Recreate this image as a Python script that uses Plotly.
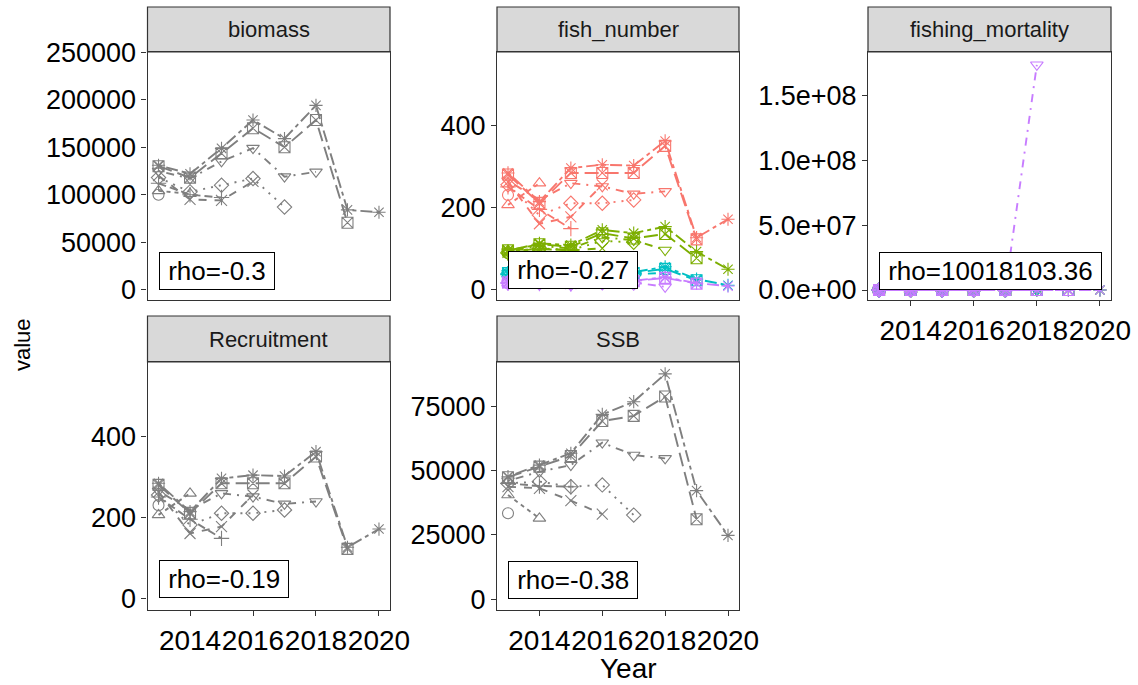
import plotly.graph_objects as go

W, H = 1138, 685
FONT = "Liberation Sans, Arial, sans-serif"

years = [2013, 2014, 2015, 2016, 2017, 2018, 2019, 2020]
peel_symbols = ["circle-open", "triangle-up-open", "cross-thin-open", "x-thin-open",
                "diamond-open", "triangle-down-open", "square-x-open", "asterisk-open"]
peel_dash = ["solid", "4px,4px", "8px,4px", "8px,8px", "2px,6px",
             "2px,6px,8px,6px", "14px,6px", "4px,4px,12px,4px"]
age_colors = ["#F8766D", "#7CAE00", "#00BFC4", "#C77CFF"]
grey = "#7F7F7F"

# ---- data: each list = one retrospective peel (values from 2013 onward) ----
biomass = [
    [100000],
    [104000, 101000],
    [112000, 100000, 97000],
    [120000, 95000, 94000, 114000],
    [118000, 103000, 110000, 117000, 87000],
    [125000, 117000, 135000, 149000, 119000, 124000],
    [130000, 118000, 143500, 170000, 150000, 178600, 70500],
    [131000, 122000, 148800, 178600, 159000, 194000, 84000, 81500],
]
recruitment = [
    [230],
    [206, 259],
    [250, 195, 148],
    [262, 160, 177, 255],
    [255, 181, 210, 210, 218],
    [265, 218, 259, 251, 233, 239],
    [280, 210, 284, 284, 284, 350, 122],
    [284, 214, 296, 304, 302, 362, 126, 171],
]
fish_age1 = recruitment
fish_age2 = [
    [88],
    [92, 100],
    [88, 98, 96],
    [90, 100, 95, 100],
    [90, 100, 96, 118, 115],
    [92, 106, 100, 127, 120, 96],
    [95, 110, 104, 137, 124, 135, 76],
    [94, 112, 108, 145, 137, 153, 92, 49],
]
fish_age3 = [
    [35],
    [37, 30],
    [36, 32, 30],
    [38, 33, 31, 33],
    [38, 34, 33, 36, 34],
    [39, 35, 34, 38, 37, 40],
    [40, 36, 36, 42, 40, 50, 22],
    [40, 37, 37, 44, 42, 55, 25, 10],
]
fish_age4 = [
    [15],
    [15, 14],
    [15, 14, 13],
    [16, 15, 14, 15],
    [16, 15, 14, 16, 15],
    [16, 16, 15, 18, 17, 6],
    [17, 16, 16, 19, 20, 28, 14],
    [17, 16, 16, 20, 21, 30, 15, 8],
]
fmort_age1 = [[0.21], [0.22, 0.25], [0.2, 0.24, 0.26], [0.21, 0.23, 0.27, 0.3],
              [0.2, 0.22, 0.25, 0.28, 0.3], [0.2, 0.22, 0.24, 0.27, 0.29, 0.31],
              [0.19, 0.21, 0.23, 0.26, 0.28, 0.3, 0.32], [0.19, 0.21, 0.23, 0.25, 0.27, 0.29, 0.31, 0.33]]
fmort_age2 = [[0.41], [0.42, 0.45], [0.4, 0.44, 0.46], [0.41, 0.43, 0.47, 0.5],
              [0.4, 0.42, 0.45, 0.48, 0.5], [0.4, 0.42, 0.44, 0.47, 0.49, 0.51],
              [0.39, 0.41, 0.43, 0.46, 0.48, 0.5, 0.52], [0.39, 0.41, 0.43, 0.45, 0.47, 0.49, 0.51, 0.53]]
fmort_age3 = [[0.61], [0.62, 0.65], [0.6, 0.64, 0.66], [0.61, 0.63, 0.67, 0.7],
              [0.6, 0.62, 0.65, 0.68, 0.7], [0.6, 0.62, 0.64, 0.67, 0.69, 0.71],
              [0.59, 0.61, 0.63, 0.66, 0.68, 0.7, 0.72], [0.59, 0.61, 0.63, 0.65, 0.67, 0.69, 0.71, 0.73]]
fmort_age4 = [[0.81], [0.82, 0.85], [0.8, 0.84, 0.86], [0.81, 0.83, 0.87, 0.9],
              [0.8, 0.82, 0.85, 0.88, 0.9], [0.8, 0.82, 0.84, 0.87, 0.89, 1.74e8],
              [0.79, 0.81, 0.83, 0.86, 0.88, 0.9, 0.92], [0.79, 0.81, 0.83, 0.85, 0.87, 0.89, 0.91, 0.93]]
ssb = [
    [33400],
    [40500, 31400],
    [45000, 44000, 43700],
    [43700, 43100, 38300, 33100],
    [45000, 45700, 43700, 44400, 32700],
    [46000, 49500, 52100, 60800, 56000, 54700],
    [47400, 51500, 55600, 69200, 71200, 78700, 31100],
    [47600, 52100, 56700, 71800, 76700, 87500, 42200, 24800],
]

panel_names = ["biomass", "fish_number", "fishing_mortality", "Recruitment", "SSB"]
rho_labels = ["rho=-0.3", "rho=-0.27", "rho=10018103.36", "rho=-0.19", "rho=-0.38"]

biomass_ticks = [0, 50000, 100000, 150000, 200000, 250000]
biomass_ticktext = ["0", "50000", "100000", "150000", "200000", "250000"]
number_ticks = [0, 200, 400]
fmort_ticks = [0, 5e7, 1e8, 1.5e8]
fmort_ticktext = ["0.0e+00", "5.0e+07", "1.0e+08", "1.5e+08"]
ssb_ticks = [0, 25000, 50000, 75000]
x_ticks = [2014, 2016, 2018, 2020]

# ---- layout geometry (pixels) ----
panel_px = [
    (147.5, 390, 52, 300),
    (497, 739, 52, 300),
    (868, 1111, 52, 300),
    (147.5, 390, 362, 610),
    (497, 739, 362, 610),
]
strip_px = [(7, 52), (7, 52), (7, 52), (316, 362), (316, 362)]
y_ranges = [
    [-10840, 250200],
    [-26, 579],
    [-7.73e6, 1.839e8],
    [-28.9, 583.4],
    [-4154, 92120],
]
x_range = [2012.65, 2020.35]

fig = go.Figure()


def add_series(panel_idx, peels, color):
    ax = "" if panel_idx == 0 else str(panel_idx + 1)
    for k, vals in enumerate(peels):
        fig.add_trace(go.Scatter(
            x=years[:len(vals)], y=vals, mode="lines+markers",
            xaxis="x" + ax, yaxis="y" + ax,
            line=dict(color=color, width=1.9, dash=peel_dash[k]),
            marker=dict(symbol=peel_symbols[k], size=11, color=color,
                        line=dict(color=color, width=1.1)),
            showlegend=False, hoverinfo="skip"))


add_series(0, biomass, grey)
for peels, col in zip([fish_age1, fish_age2, fish_age3, fish_age4], age_colors):
    add_series(1, peels, col)
for peels, col in zip([fmort_age1, fmort_age2, fmort_age3, fmort_age4], age_colors):
    add_series(2, peels, col)
add_series(3, recruitment, grey)
add_series(4, ssb, grey)

axis_common = dict(showline=True, mirror=True, linecolor="#333333", linewidth=1.2,
                   ticks="outside", ticklen=5, tickwidth=1.2, tickcolor="#333333",
                   showgrid=False, zeroline=False, automargin=False, tickangle=0)

y_tickvals = [biomass_ticks, number_ticks, fmort_ticks, number_ticks, ssb_ticks]
y_ticktext = [biomass_ticktext, [str(v) for v in number_ticks], fmort_ticktext,
              [str(v) for v in number_ticks], [str(v) for v in ssb_ticks]]
show_x = [False, False, True, True, True]

layout = dict(template="none", width=W, height=H, margin=dict(l=0, r=0, t=0, b=0),
              paper_bgcolor="white", plot_bgcolor="white", showlegend=False)
shapes = []
annotations = []
for i, (x0, x1, y0, y1) in enumerate(panel_px):
    ax = "" if i == 0 else str(i + 1)
    xa = dict(axis_common, domain=[x0 / W, x1 / W], range=x_range,
              anchor="y" + ax, tickvals=x_ticks if show_x[i] else [],
              ticktext=[str(v) for v in x_ticks] if show_x[i] else [],
              ticks="outside" if show_x[i] else "",
              tickfont=dict(family=FONT, size=28, color="black"))
    ya = dict(axis_common, domain=[1 - y1 / H, 1 - y0 / H], range=y_ranges[i],
              anchor="x" + ax, tickvals=y_tickvals[i], ticktext=y_ticktext[i],
              tickfont=dict(family=FONT, size=27, color="black"))
    layout["xaxis" + ax] = xa
    layout["yaxis" + ax] = ya
    s0, s1 = strip_px[i]
    shapes.append(dict(type="rect", xref="paper", yref="paper",
                       x0=x0 / W, x1=x1 / W, y0=1 - s1 / H, y1=1 - s0 / H,
                       fillcolor="#D9D9D9", line=dict(color="#333333", width=1.2),
                       layer="below"))
    annotations.append(dict(xref="paper", yref="paper", x=(x0 + x1) / 2 / W,
                            y=1 - (s0 + s1) / 2 / H, text=panel_names[i],
                            showarrow=False, xanchor="center", yanchor="middle",
                            font=dict(family=FONT, size=22, color="#1A1A1A")))
    annotations.append(dict(xref="x" + ax, yref="y" + ax, x=2013, y=0,
                            text="\u2009" + rho_labels[i] + "\u2009", showarrow=False,
                            xanchor="left", yanchor="bottom",
                            bgcolor="white", bordercolor="black", borderwidth=1,
                            borderpad=3,
                            font=dict(family=FONT, size=26, color="black")))

annotations.append(dict(xref="paper", yref="paper", x=628 / W, y=1 - 668 / H,
                        text="Year", showarrow=False, xanchor="center", yanchor="middle",
                        font=dict(family=FONT, size=28, color="black")))
annotations.append(dict(xref="paper", yref="paper", x=22 / W, y=1 - 345 / H,
                        text="value", showarrow=False, textangle=-90,
                        xanchor="center", yanchor="middle",
                        font=dict(family=FONT, size=22, color="black")))
layout["shapes"] = shapes
layout["annotations"] = annotations
fig.update_layout(**layout)
fig.write_html("out.html", config={"displayModeBar": False},
               post_script="document.body.style.margin='0px';")
